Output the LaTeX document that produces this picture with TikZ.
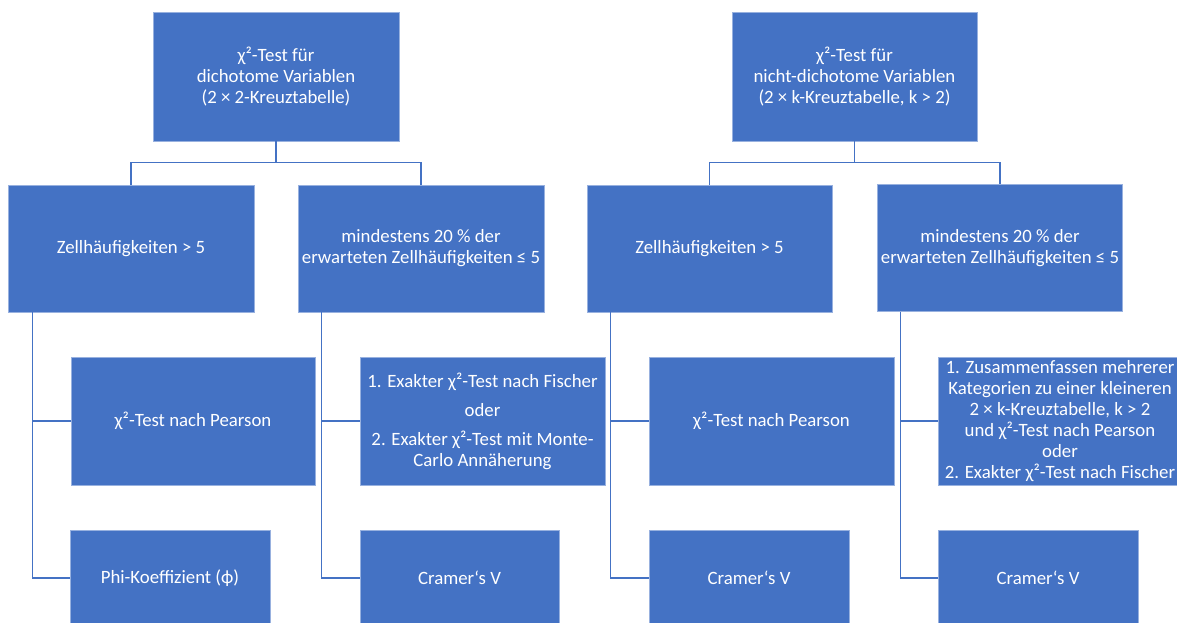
\documentclass[tikz,border=0pt]{standalone}
\usepackage{fontspec}
\setmainfont{Carlito}
\usetikzlibrary{calc}
\definecolor{officeblue}{HTML}{4472C4}
\tikzset{
  kasten/.style={fill=officeblue, draw=officeblue!55!white, line width=0.5pt, text=white,
    align=center, inner sep=0pt, font=\fontsize{18.8}{21}\selectfont},
  linie/.style={draw=officeblue, line width=1.3pt},
}
\begin{document}
\begin{tikzpicture}[x=1pt,y=-1pt]
  %%%%% START %%%%%
  \useasboundingbox (0,0) rectangle (1177,622);
  \clip (0,0) rectangle (1177,622);

  % obere Ebene
  \node[kasten, minimum width=246pt, minimum height=129pt] (T1) at (276,76.5)
    {χ²-Test für\\dichotome Variablen\\(2 × 2-Kreuztabelle)};
  \node[kasten, minimum width=245pt, minimum height=129pt] (T2) at (854.5,76.5)
    {χ²-Test für\\nicht-dichotome Variablen\\(2 × k-Kreuztabelle, k > 2)};

  % zweite Ebene
  \node[kasten, minimum width=246pt, minimum height=127pt] (A2) at (131,248.5) {Zellhäufigkeiten > 5};
  \node[kasten, minimum width=246pt, minimum height=127pt] (B2) at (421,248.5)
    {mindestens 20 \% der\\erwarteten Zellhäufigkeiten ≤ 5};
  \node[kasten, minimum width=245pt, minimum height=127pt] (C2) at (709.5,248.5) {Zellhäufigkeiten > 5};
  \node[kasten, minimum width=245pt, minimum height=127pt] (D2) at (1000,248)
    {mindestens 20 \% der\\erwarteten Zellhäufigkeiten ≤ 5};

  % dritte Ebene
  \node[kasten, minimum width=244pt, minimum height=128pt] (A3) at (193,421) {χ²-Test nach Pearson};
  \node[kasten, minimum width=245pt, minimum height=128pt] (B3) at (482.5,421)
    {1. Exakter χ²-Test nach Fischer\\[8pt]oder\\[8pt]2. Exakter χ²-Test mit Monte-\\Carlo Annäherung};
  \node[kasten, minimum width=245pt, minimum height=128pt] (C3) at (771.5,421) {χ²-Test nach Pearson};
  \node[kasten, minimum width=244pt, minimum height=128pt] (D3) at (1060,421)
    {1. Zusammenfassen mehrerer\\Kategorien zu einer kleineren\\2 × k-Kreuztabelle, k > 2\\und χ²-Test nach Pearson\\oder\\2. Exakter χ²-Test nach Fischer};

  % vierte Ebene
  \node[kasten, minimum width=200pt, minimum height=96pt] (A4) at (170,578) {Phi-Koeffizient (ϕ)};
  \node[kasten, minimum width=199pt, minimum height=96pt] (B4) at (459.5,578) {Cramer‘s V};
  \node[kasten, minimum width=200pt, minimum height=96pt] (C4) at (749,578) {Cramer‘s V};
  \node[kasten, minimum width=200pt, minimum height=96pt] (D4) at (1038,578) {Cramer‘s V};

  % Verbindungen oben
  \draw[linie] (T1.south) -- ++(0,21.5) -| (A2.north);
  \draw[linie] (T1.south) -- ++(0,21.5) -| (B2.north);
  \draw[linie] (T2.south) -- ++(0,21.5) -| (C2.north);
  \draw[linie] (T2.south) -- ++(0,21.5) -| (D2.north);

  % Verbindungen unten
  \draw[linie] ([xshift=25pt]A2.south west) |- (A3.west);
  \draw[linie] ([xshift=25pt]A2.south west) |- (A4.west);
  \draw[linie] ([xshift=24pt]B2.south west) |- (B3.west);
  \draw[linie] ([xshift=24pt]B2.south west) |- (B4.west);
  \draw[linie] ([xshift=24pt]C2.south west) |- (C3.west);
  \draw[linie] ([xshift=24pt]C2.south west) |- (C4.west);
  \draw[linie] ([xshift=23pt]D2.south west) |- (D3.west);
  \draw[linie] ([xshift=23pt]D2.south west) |- (D4.west);

  %%%%% END %%%%%
\end{tikzpicture}
\end{document}
